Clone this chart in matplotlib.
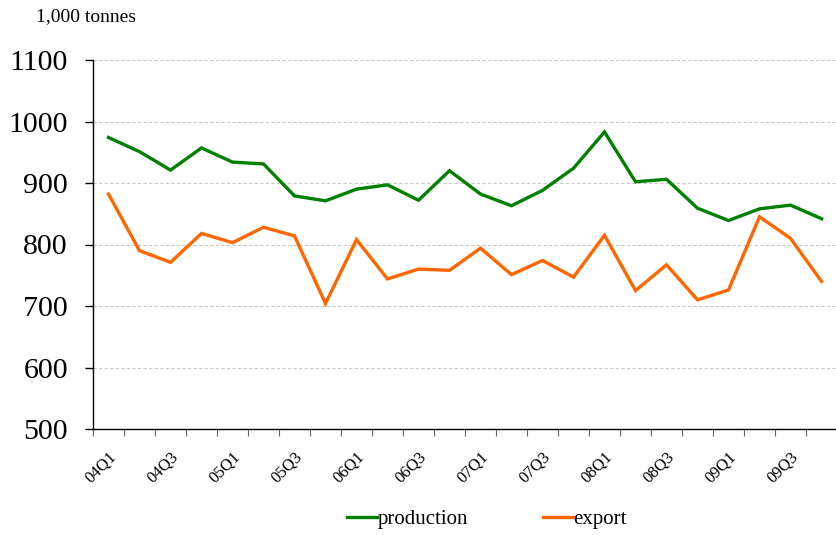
import matplotlib
matplotlib.use("Agg")
import matplotlib.pyplot as plt
import numpy as np

quarters = [f"{y:02d}Q{q}" for y in range(4, 10) for q in range(1, 5)]
production = [974, 951, 921, 957, 934, 931, 879, 871, 890, 897, 872, 920,
              882, 863, 888, 924, 983, 902, 906, 859, 839, 858, 864, 842]
export = [882, 790, 771, 818, 803, 828, 814, 704, 808, 744, 760, 758,
          794, 751, 774, 747, 815, 725, 767, 710, 726, 845, 810, 740]

plt.rcParams['font.family'] = ['Liberation Serif', 'DejaVu Serif']

fig = plt.figure(figsize=(8.37, 5.35), dpi=100)
W, H = 837, 535
ax = fig.add_axes([93 / W, 1 - 429 / H, (837 - 93) / W, (429 - 60) / H])

x = np.arange(len(quarters))
ax.plot(x, production, color='#008000', lw=2.4, label='production', solid_joinstyle='miter')
ax.plot(x, export, color='#FF6600', lw=2.4, label='export', solid_joinstyle='miter')

step = 31.35
ax.set_xlim(-0.5, -0.5 + (837 - 93) / step)
ax.set_ylim(500, 1100)
ax.set_yticks(np.arange(500, 1101, 100))
ax.tick_params(axis='y', labelsize=21.5, length=6, width=1, direction='out', pad=12)
ax.grid(axis='y', color='#c8c8c8', linestyle=(0, (3, 2)), linewidth=0.8)
ax.set_axisbelow(True)

ax.set_xticks(np.arange(-0.5, len(quarters), 1.0))
ax.set_xticklabels([])
ax.tick_params(axis='x', which='major', length=5, width=0.8, color='#666666', direction='out')
ax.set_xticks(x[::2], minor=True)
ax.set_xticklabels(quarters[::2], minor=True, rotation=45, ha='right', va='top',
                   rotation_mode='anchor', fontsize=12)
ax.tick_params(axis='x', which='minor', length=0, pad=14)

for s in ['top', 'right']:
    ax.spines[s].set_visible(False)
for s in ['left', 'bottom']:
    ax.spines[s].set_color('black')
    ax.spines[s].set_linewidth(1.0)

fig.text(36 / W, 1 - 17 / H, '1,000 tonnes', fontsize=14, va='center', ha='left')

fig.legend(loc='center', bbox_to_anchor=(487 / W, 1 - 519 / H), ncol=2, frameon=False,
           fontsize=15, handlelength=1.45, handletextpad=0.0, columnspacing=3.6)

fig.savefig('out.png', dpi=100)
